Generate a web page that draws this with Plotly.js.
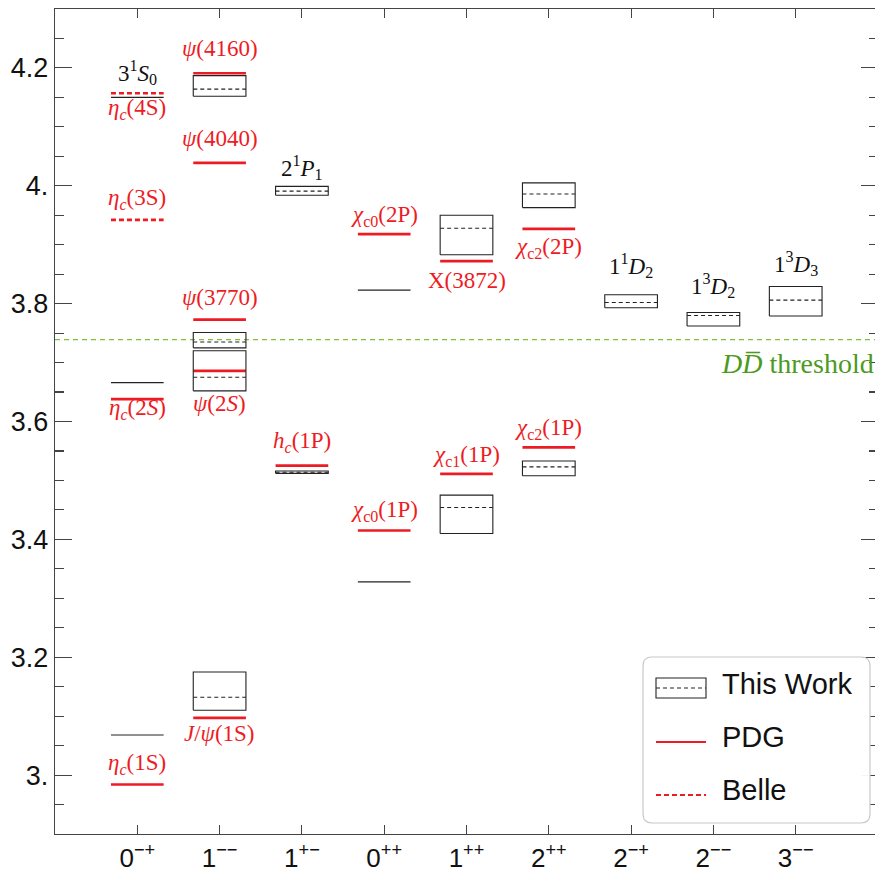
<!DOCTYPE html>
<html>
<head>
<meta charset="utf-8">
<script src="https://cdn.plot.ly/plotly-3.0.1.min.js"></script>
<style>
html,body{margin:0;padding:0;overflow:hidden;background:#fff;}
#chart{width:878px;height:869px;}
</style>
</head>
<body>
<div id="chart"></div>
<script>
// ---------- data ----------
const categories = ['0<sup>−+</sup>','1<sup>−−</sup>','1<sup>+−</sup>','0<sup>++</sup>','1<sup>++</sup>','2<sup>++</sup>','2<sup>−+</sup>','2<sup>−−</sup>','3<sup>−−</sup>'];
const catIndex = [1,2,3,4,5,6,7,8,9];

// This work: boxes (category, low, high, central)
const twBoxCat  = [2,     2,     2,     2,     3,     3,     5,     5,     6,     6,     7,     8,     9];
const twBoxLow  = [3.110, 3.652, 3.725, 4.152, 3.512, 3.984, 3.410, 3.883, 3.508, 3.963, 3.793, 3.762, 3.779];
const twBoxHigh = [3.175, 3.720, 3.751, 4.187, 3.516, 3.999, 3.475, 3.950, 3.533, 4.005, 3.815, 3.785, 3.829];
const twBoxMid  = [3.132, 3.675, 3.735, 4.164, 3.514, 3.991, 3.454, 3.928, 3.523, 3.986, 3.802, 3.780, 3.806];

// This work: single levels
const twLineCat = [1,     1,     1,     4,     4];
const twLineVal = [3.068, 3.666, 4.150, 3.328, 3.823];

// PDG
const pdgCat = [1,     1,     2,     2,     2,     2,     2,     3,     4,     4,     5,     5,     6,     6];
const pdgVal = [2.984, 3.638, 3.097, 3.686, 3.773, 4.039, 4.191, 3.525, 3.415, 3.918, 3.511, 3.872, 3.556, 3.927];

// Belle
const belleCat = [1,     1];
const belleVal = [3.942, 4.157];

// DD-bar threshold
const ddThreshold = 3.739;

// Level labels
const labelText = [
  '3<sup>1</sup><i>S</i><sub>0</sub>', '<i>η<sub>c</sub></i>(4S)', '<i>η<sub>c</sub></i>(3S)', '<i>η<sub>c</sub></i>(2<i>S</i>)', '<i>η<sub>c</sub></i>(1S)',
  '<i>ψ</i>(4160)', '<i>ψ</i>(4040)', '<i>ψ</i>(3770)', '<i>ψ</i>(2<i>S</i>)', '<i>J</i>/<i>ψ</i>(1S)',
  '2<sup>1</sup><i>P</i><sub>1</sub>', '<i>h<sub>c</sub></i>(1P)',
  '<i>χ</i><sub>c0</sub>(2P)', '<i>χ</i><sub>c0</sub>(1P)',
  'X(3872)', '<i>χ</i><sub>c1</sub>(1P)',
  '<i>χ</i><sub>c2</sub>(2P)', '<i>χ</i><sub>c2</sub>(1P)',
  '1<sup>1</sup><i>D</i><sub>2</sub>', '1<sup>3</sup><i>D</i><sub>2</sub>', '1<sup>3</sup><i>D</i><sub>3</sub>'
];
const labelCat = [1,1,1,1,1, 2,2,2,2,2, 3,3, 4,4, 5,5, 6,6, 7,8,9];
const labelY   = [4.192,4.131,3.978,3.621,3.019, 4.233,4.081,3.810,3.630,3.070, 4.031,3.565, 3.949,3.448, 3.839,3.542, 3.895,3.587, 3.864,3.830,3.868];
const labelBlack = [true,false,false,false,false, false,false,false,false,false, true,false, false,false, false,false, false,false, true,true,true];

// ---------- styling ----------
const HW = 0.32;              // half-width of level marks (category units)
const RED = 'rgb(237,28,36)';
const BLACK = '#222';
const GREEN_LINE = '#7cc13a';
const GREEN_TEXT = '#4c9a1e';
const SERIF = 'Liberation Serif, Times New Roman, serif';
const SANS = 'Liberation Sans, Arial, Helvetica, sans-serif';

function segs(cats, vals){
  const x=[], y=[];
  cats.forEach((c,i)=>{ x.push(c-HW,c+HW,null); y.push(vals[i],vals[i],null); });
  return {x,y};
}
function boxes(cats, lo, hi){
  const x=[], y=[];
  cats.forEach((c,i)=>{
    x.push(c-HW,c+HW,c+HW,c-HW,c-HW,null);
    y.push(lo[i],lo[i],hi[i],hi[i],lo[i],null);
  });
  return {x,y};
}

const b = boxes(twBoxCat, twBoxLow, twBoxHigh);
const bm = segs(twBoxCat, twBoxMid);
const tl = segs(twLineCat, twLineVal);
const pd = segs(pdgCat, pdgVal);
const be = segs(belleCat, belleVal);

const traces = [
  {type:'scatter', mode:'lines', x:pd.x, y:pd.y, line:{color:RED, width:2.7}, name:'PDG', showlegend:false, hoverinfo:'skip'},
  {type:'scatter', mode:'lines', x:be.x, y:be.y, line:{color:RED, width:2.7, dash:'5px,3px'}, name:'Belle', showlegend:false, hoverinfo:'skip'},
  {type:'scatter', mode:'lines', x:b.x, y:b.y, line:{color:BLACK, width:1.1}, name:'This Work', showlegend:false, hoverinfo:'skip'},
  {type:'scatter', mode:'lines', x:bm.x, y:bm.y, line:{color:BLACK, width:1.1, dash:'4px,3px'}, showlegend:false, hoverinfo:'skip'},
  {type:'scatter', mode:'lines', x:tl.x, y:tl.y, line:{color:BLACK, width:1.2}, showlegend:false, hoverinfo:'skip'}
];

// geometry (pixels -> paper) for the hand-drawn legend
const W = 878, H = 869, ML = 55, MR = 0, MT = 9, MB = 35;
const PW = W-ML-MR, PH = H-MT-MB;
const px = v => (v-ML)/PW;
const py = v => (H-MB-v)/PH;

function roundRect(x0,y0,x1,y1,r){
  const rx = r/PW, ry = r/PH;
  const a=px(x0), bb=px(x1), t=py(y0), btm=py(y1);
  return `M ${a+rx},${t} L ${bb-rx},${t} Q ${bb},${t} ${bb},${t-ry} L ${bb},${btm+ry} Q ${bb},${btm} ${bb-rx},${btm} L ${a+rx},${btm} Q ${a},${btm} ${a},${btm+ry} L ${a},${t-ry} Q ${a},${t} ${a+rx},${t} Z`;
}

const shapes = [
  {type:'line', xref:'paper', yref:'y', x0:0, x1:1, y0:ddThreshold, y1:ddThreshold, line:{color:GREEN_LINE, width:1.2, dash:'5px,4px'}, layer:'below'},
  // legend frame
  {type:'path', xref:'paper', yref:'paper', path:roundRect(643,657,870,823,9), line:{color:'#c8c8c8', width:1.2}, fillcolor:'rgba(255,255,255,0.95)'},
  // legend icons
  {type:'rect', xref:'paper', yref:'paper', x0:px(656), x1:px(706), y0:py(698), y1:py(678), line:{color:BLACK, width:1.1}},
  {type:'line', xref:'paper', yref:'paper', x0:px(656), x1:px(706), y0:py(688), y1:py(688), line:{color:BLACK, width:1.1, dash:'4px,3px'}},
  {type:'line', xref:'paper', yref:'paper', x0:px(656), x1:px(706), y0:py(742), y1:py(742), line:{color:RED, width:2.2}},
  {type:'line', xref:'paper', yref:'paper', x0:px(656), x1:px(706), y0:py(795), y1:py(795), line:{color:RED, width:2.2, dash:'5px,3px'}}
];

const annotations = labelText.map((t,i)=>({
  x: labelCat[i], y: labelY[i], xref:'x', yref:'y', text:t, showarrow:false,
  xanchor:'center', yanchor:'middle',
  font:{family:SERIF, size:23, color: labelBlack[i] ? '#111' : RED}
}));
annotations.push({
  x: 8.07, y: ddThreshold - 0.041, xref:'x', yref:'y', showarrow:false, xanchor:'left', yanchor:'middle',
  text:'<i>D</i><i>D\u0305</i> threshold', font:{family:SERIF, size:28, color:GREEN_TEXT}
});
['This Work','PDG','Belle'].forEach((t,i)=>{
  annotations.push({x:px(720), y:py([684,737,790][i]), xref:'paper', yref:'paper', showarrow:false,
    xanchor:'left', yanchor:'middle', text:t, font:{family:SANS, size:29, color:'#111'}});
});

const layout = {
  width: W, height: H,
  margin:{l:ML, r:MR, t:MT, b:MB, pad:0},
  paper_bgcolor:'#fff', plot_bgcolor:'#fff',
  showlegend:false,
  xaxis:{
    range:[0,10], tickvals:catIndex, ticktext:categories,
    ticks:'inside', ticklen:9, tickwidth:1.1, tickcolor:'#444',
    showline:true, linecolor:'#444', linewidth:1.3, mirror:'ticks',
    showgrid:false, zeroline:false,
    tickfont:{family:SANS, size:26, color:'#111'}
  },
  yaxis:{
    range:[2.9,4.3], tickvals:[3.0,3.2,3.4,3.6,3.8,4.0,4.2], ticktext:['3.','3.2','3.4','3.6','3.8','4.','4.2'],
    ticks:'inside', ticklen:17, tickwidth:1.1, tickcolor:'#444',
    minor:{dtick:0.05, ticks:'inside', ticklen:9, tickwidth:1.1, tickcolor:'#444', showgrid:false},
    showline:true, linecolor:'#444', linewidth:1.3, mirror:'ticks',
    showgrid:false, zeroline:false,
    tickfont:{family:SANS, size:27, color:'#111'}
  },
  shapes, annotations
};

Plotly.newPlot('chart', traces, layout, {displayModeBar:false, staticPlot:true});
</script>
</body>
</html>
